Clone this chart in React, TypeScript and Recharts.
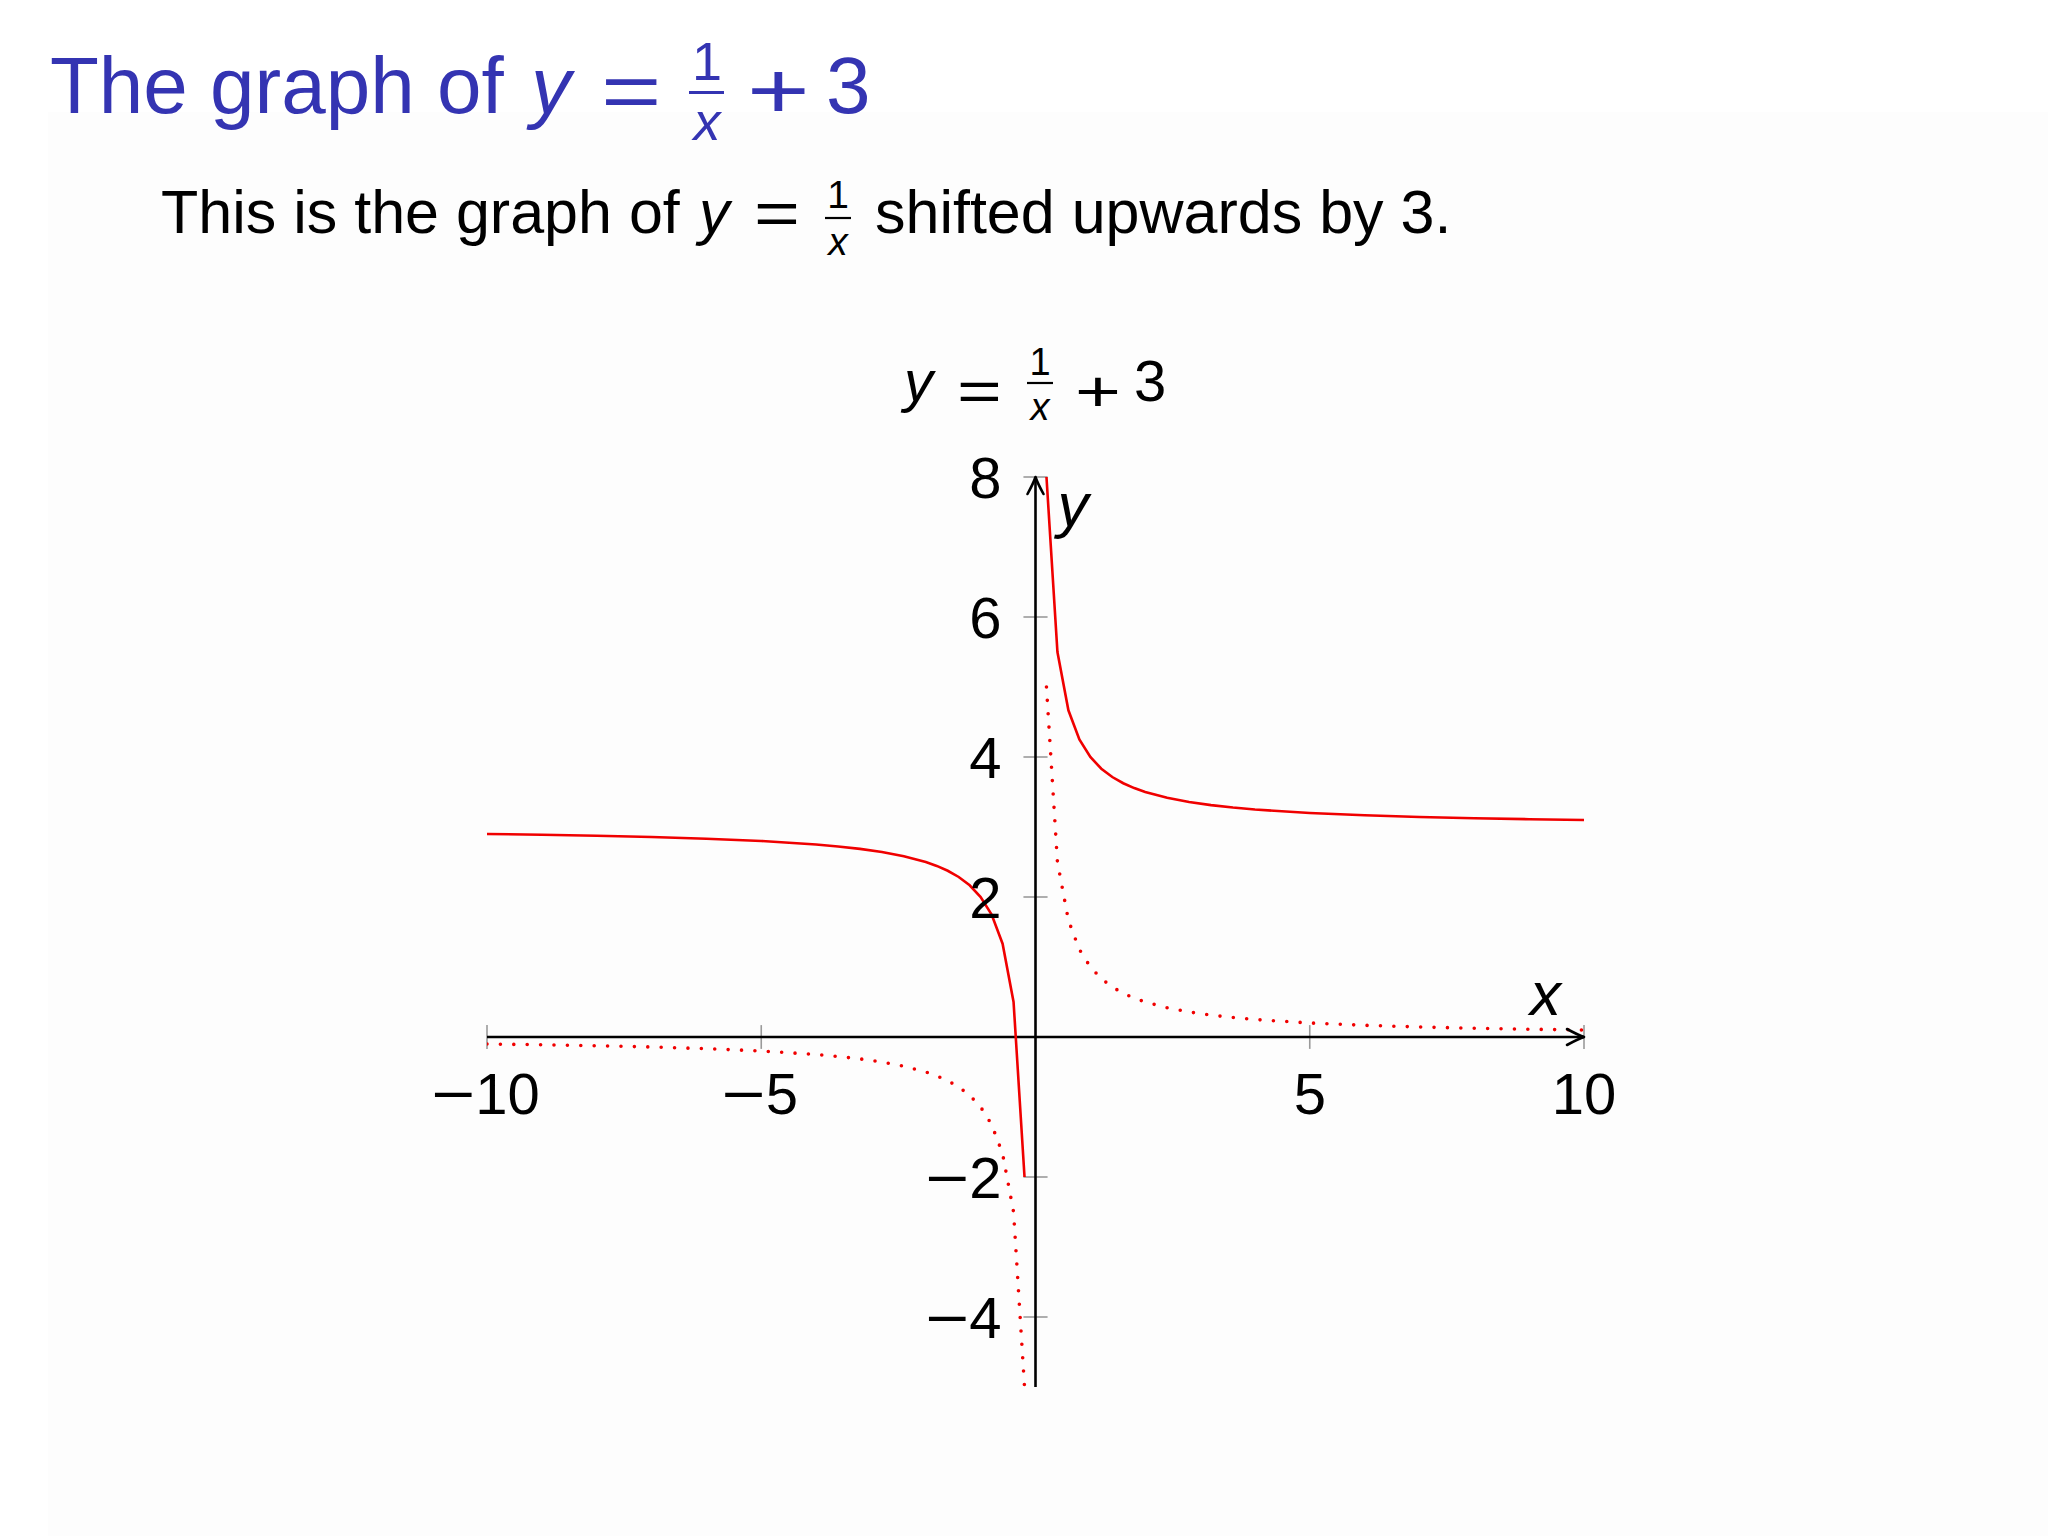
import React from "react";
import { LineChart, Line, XAxis, YAxis, ReferenceLine, ReferenceDot } from "recharts";

// ---- data ----
const xLeft = [-10, -9, -8, -7, -6, -5, -4, -3.6, -3.2, -2.8, -2.4, -2, -1.8, -1.6, -1.4, -1.2, -1, -0.8, -0.6, -0.4, -0.2];
const xRight = [0.2, 0.4, 0.6, 0.8, 1, 1.2, 1.4, 1.6, 1.8, 2, 2.4, 2.8, 3.2, 3.6, 4, 5, 6, 7, 8, 9, 10];
const ySolidLeft = [2.9, 2.889, 2.875, 2.857, 2.833, 2.8, 2.75, 2.722, 2.688, 2.643, 2.583, 2.5, 2.444, 2.375, 2.286, 2.167, 2, 1.75, 1.333, 0.5, -2];
const ySolidRight = [8, 5.5, 4.667, 4.25, 4, 3.833, 3.714, 3.625, 3.556, 3.5, 3.417, 3.357, 3.313, 3.278, 3.25, 3.2, 3.167, 3.143, 3.125, 3.111, 3.1];
const yDotLeft = [-0.1, -0.111, -0.125, -0.143, -0.167, -0.2, -0.25, -0.278, -0.313, -0.357, -0.417, -0.5, -0.556, -0.625, -0.714, -0.833, -1, -1.25, -1.667, -2.5, -5];
const yDotRight = [5, 2.5, 1.667, 1.25, 1, 0.833, 0.714, 0.625, 0.556, 0.5, 0.417, 0.357, 0.313, 0.278, 0.25, 0.2, 0.167, 0.143, 0.125, 0.111, 0.1];

const xTicks = [-10, -5, 5, 10];
const xTickLabels = ["10", "5", "5", "10"];
const yTicks = [-4, -2, 2, 4, 6, 8];
const yTickLabels = ["4", "2", "2", "4", "6", "8"];
const xDomain = [-10, 10];
const yDomain = [-5, 8];

const title = "The graph of";
const subtitle = "This is the graph of";
const subtitleEnd = "shifted upwards by 3.";

const toRows = (xs: number[], ys: number[]) => xs.map((x, i) => ({ x, y: ys[i] }));
const solidLeft = toRows(xLeft, ySolidLeft);
const solidRight = toRows(xRight, ySolidRight);
const dotLeft = toRows(xLeft, yDotLeft);
const dotRight = toRows(xRight, yDotRight);

const FONT = "'Liberation Sans', Arial, Helvetica, sans-serif";
const RED = "#f00000";
const TICKGRAY = "#9a9a9a";
const TICK_FS = 58;
const DIGIT_W = 0.556 * TICK_FS;

const MathGlyph = ({ ch, x0, x1, base, size, fill }: any) => (
  <text x={x0} y={base} fontSize={size} fontFamily={FONT} fill={fill} textLength={(x1 - x0) * 1.12} lengthAdjust="spacingAndGlyphs">
    {ch}
  </text>
);

const Frac = ({ cx, numBase, denBase, barY, barX0, barX1, size, fill, bw }: any) => (
  <g>
    <text x={cx} y={numBase} fontSize={size} fontFamily={FONT} fill={fill} textAnchor="middle">1</text>
    <line x1={barX0} x2={barX1} y1={barY} y2={barY} stroke={fill} strokeWidth={bw} />
    <text x={cx} y={denBase} fontSize={size} fontFamily={FONT} fontStyle="italic" fill={fill} textAnchor="middle">x</text>
  </g>
);

const Texts = () => {
  const blue = "#3434b2";
  return (
    <svg width={2048} height={1536} style={{ position: "absolute", left: 0, top: 0, pointerEvents: "none" }}>
      {/* frame title */}
      <text x={50} y={113} fontSize={80} fontFamily={FONT} fill={blue}>{title}</text>
      <text x={531} y={113} fontSize={80} fontFamily={FONT} fontStyle="italic" fill={blue}>y</text>
      <MathGlyph ch="=" x0={601} x1={655} base={118} size={80} fill={blue} />
      <Frac cx={707} numBase={80} denBase={140} barY={92.5} barX0={689} barX1={724} size={54} fill={blue} bw={3} />
      <MathGlyph ch="+" x0={747} x1={803} base={118} size={80} fill={blue} />
      <text x={826} y={113} fontSize={80} fontFamily={FONT} fill={blue}>3</text>

      {/* subtitle */}
      <text x={161} y={233} fontSize={61} fontFamily={FONT} fill="#000">{subtitle}</text>
      <text x={699} y={233} fontSize={61} fontFamily={FONT} fontStyle="italic" fill="#000">y</text>
      <MathGlyph ch="=" x0={754} x1={795} base={234} size={61} fill="#000" />
      <Frac cx={838} numBase={208} denBase={255} barY={218} barX0={825} barX1={851} size={39} fill="#000" bw={2.2} />
      <text x={875} y={233} fontSize={61} fontFamily={FONT} fill="#000">{subtitleEnd}</text>

      {/* chart title */}
      <text x={904} y={401} fontSize={58} fontFamily={FONT} fontStyle="italic" fill="#000">y</text>
      <MathGlyph ch="=" x0={957} x1={997} base={411} size={58} fill="#000" />
      <Frac cx={1040} numBase={375} denBase={420} barY={383} barX0={1027} barX1={1053} size={38} fill="#000" bw={2.2} />
      <MathGlyph ch="+" x0={1075} x1={1116} base={411} size={58} fill="#000" />
      <text x={1134} y={401} fontSize={58} fontFamily={FONT} fill="#000">3</text>
    </svg>
  );
};

// tick label: wide math minus + digits; startX is the left edge of the whole label
const TickText = ({ startX, base, label, neg }: any) => {
  const digitsX = neg ? startX + 41 : startX;
  return (
    <g>
      {neg ? (
        <text x={startX - 3} y={base} fontSize={TICK_FS} fontFamily={FONT} fill="#000" textLength={44} lengthAdjust="spacingAndGlyphs">
          {"\u2212"}
        </text>
      ) : null}
      <text x={digitsX} y={base} fontSize={TICK_FS} fontFamily={FONT} fill="#000">{label}</text>
    </g>
  );
};

const xTickShape = (label: string, neg: boolean) => (p: any) => {
  const w = (neg ? 41 : 0) + DIGIT_W * label.length;
  return <TickText startX={p.cx - w / 2} base={p.cy + 77} label={label} neg={neg} />;
};

const yTickShape = (label: string, neg: boolean) => (p: any) => {
  const w = (neg ? 41 : 0) + DIGIT_W * label.length;
  return <TickText startX={p.cx - 34 - w} base={p.cy + 21} label={label} neg={neg} />;
};

const arrowRight = (p: any) => (
  <path d={`M ${p.cx - 17} ${p.cy - 8} Q ${p.cx - 6} ${p.cy - 2} ${p.cx} ${p.cy} Q ${p.cx - 6} ${p.cy + 2} ${p.cx - 17} ${p.cy + 8}`} fill="none" stroke="#000" strokeWidth={2.6} strokeLinecap="round" strokeLinejoin="round" />
);
const arrowUp = (p: any) => (
  <path d={`M ${p.cx - 8} ${p.cy + 17} Q ${p.cx - 2} ${p.cy + 6} ${p.cx} ${p.cy} Q ${p.cx + 2} ${p.cy + 6} ${p.cx + 8} ${p.cy + 17}`} fill="none" stroke="#000" strokeWidth={2.6} strokeLinecap="round" strokeLinejoin="round" />
);

const xLabelShape = (p: any) => (
  <text x={p.cx} y={p.cy} textAnchor="middle" fontSize={62} fontFamily={FONT} fontStyle="italic" fill="#000">x</text>
);
const yLabelShape = (p: any) => (
  <text x={p.cx} y={p.cy} textAnchor="start" fontSize={62} fontFamily={FONT} fontStyle="italic" fill="#000">y</text>
);

export default function App() {
  return (
    <div style={{ position: "absolute", left: 0, top: 0, width: 2048, height: 1536, background: "#ffffff", overflow: "hidden" }}>
      <div style={{ position: "absolute", left: 48, top: 112, right: 0, bottom: 0, background: "#fdfdfd" }} />
      <Texts />
      <div style={{ position: "absolute", left: 0, top: 0 }}>
        <LineChart width={2048} height={1536} margin={{ top: 477, right: 464, bottom: 149, left: 487 }}>
          <XAxis type="number" dataKey="x" domain={xDomain} hide allowDataOverflow />
          <YAxis type="number" dataKey="y" domain={yDomain} hide allowDataOverflow />
          {xTicks.map((t) => (
            <ReferenceLine key={"xt" + t} segment={[{ x: t, y: -0.17 }, { x: t, y: 0.17 }]} stroke={TICKGRAY} strokeWidth={1.6} />
          ))}
          {yTicks.map((t) => (
            <ReferenceLine key={"yt" + t} segment={[{ x: -0.22, y: t }, { x: 0.22, y: t }]} stroke={TICKGRAY} strokeWidth={1.6} />
          ))}
          <ReferenceLine y={0} stroke="#000" strokeWidth={2.6} />
          <ReferenceLine x={0} stroke="#000" strokeWidth={2.6} />
          <Line data={dotLeft} dataKey="y" type="linear" stroke={RED} strokeWidth={3.6} strokeDasharray="0 13.4" strokeLinecap="round" dot={false} isAnimationActive={false} />
          <Line data={dotRight} dataKey="y" type="linear" stroke={RED} strokeWidth={3.6} strokeDasharray="0 13.4" strokeLinecap="round" dot={false} isAnimationActive={false} />
          <Line data={solidLeft} dataKey="y" type="linear" stroke={RED} strokeWidth={2.6} dot={false} isAnimationActive={false} />
          <Line data={solidRight} dataKey="y" type="linear" stroke={RED} strokeWidth={2.6} dot={false} isAnimationActive={false} />
          <ReferenceDot x={10} y={0} r={1} shape={arrowRight} />
          <ReferenceDot x={0} y={8} r={1} shape={arrowUp} />
          {xTicks.map((t, i) => (
            <ReferenceDot key={"xl" + t} x={t} y={0} r={1} shape={xTickShape(xTickLabels[i], t < 0)} />
          ))}
          {yTicks.map((t, i) => (
            <ReferenceDot key={"yl" + t} x={0} y={t} r={1} shape={yTickShape(yTickLabels[i], t < 0)} />
          ))}
          <ReferenceDot x={9.3} y={0.31} r={1} shape={xLabelShape} />
          <ReferenceDot x={0.4} y={7.3} r={1} shape={yLabelShape} />
        </LineChart>
      </div>
    </div>
  );
}
